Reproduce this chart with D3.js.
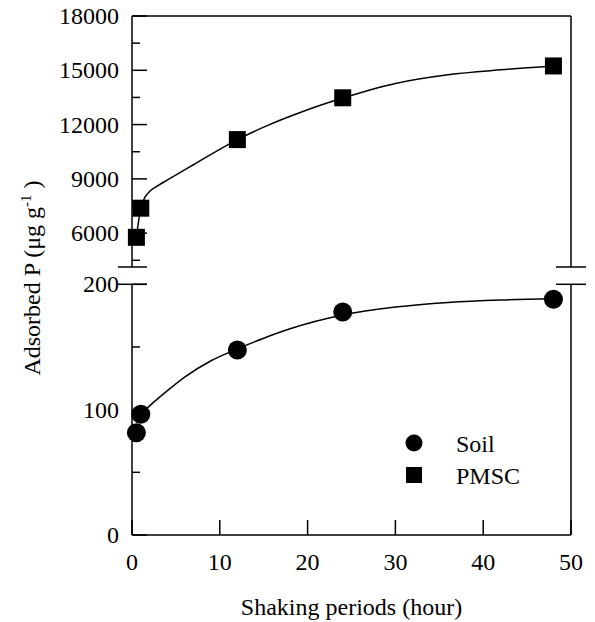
<!DOCTYPE html>
<html>
<head>
<meta charset="utf-8">
<script src="https://cdn.jsdelivr.net/npm/d3@7/dist/d3.min.js"></script>
<style>
  body { margin: 0; background: #fff; }
  .axis { stroke: #000; stroke-width: 1.5; fill: none; }
  .fit { stroke: #000; stroke-width: 1.5; fill: none; }
</style>
</head>
<body>
<svg id="chart" width="595" height="622" font-family="Liberation Serif, DejaVu Serif, serif"></svg>
<script>
'use strict';

// shaking time (hour) and adsorbed P
const hours = [0.5, 1, 12, 24, 48];
const soilP = [81.6, 96.3, 147.6, 177.9, 188];
const pmscP = [5770, 7380, 11170, 13480, 15240];

// fitted curves
const soilFitHours = [1, 2, 4, 6, 9, 12, 15, 18, 24, 30, 36, 42, 48];
const soilFit = [96.3, 103, 115, 126, 139, 148.5, 157, 164.5, 175.5, 181.8, 185.5, 187.5, 188.5];
const pmscFitHours = [0.5, 1, 1.5, 2, 3, 4, 7, 12, 15, 19, 24, 30, 36, 42, 48];
const pmscFit = [5770, 7380, 8000, 8300, 8640, 8930, 9780, 11170, 11860, 12640, 13465, 14275, 14755, 15025, 15235];

// tick values for the broken y axis
const xTicks = [0, 10, 20, 30, 40, 50];
const lowMajor = [0, 100, 200];
const lowMinor = [50, 150];
const highMajor = [6000, 9000, 12000, 15000, 18000];
const highMinor = [4500, 7500, 10500, 13500, 16500];

const svg = d3.select('#chart');

// plot box, with the axis break between the two panels
const box = { l: 132, r: 571, t: 16, b: 535 };
const breakTop = 267, breakBottom = 284.3;

const x = d3.scaleLinear().domain([0, 50]).range([box.l, box.r]);
const yLow = d3.scaleLinear().domain([0, 200]).range([box.b, breakBottom]);
const yHigh = d3.scaleLinear().domain([4130, 18000]).range([breakTop, box.t]);

// frame: axes are split at the break
const seg = (x1, y1, x2, y2) => svg.append('line').attr('class', 'axis')
  .attr('x1', x1).attr('y1', y1).attr('x2', x2).attr('y2', y2);
seg(box.l, box.t, box.r, box.t);
seg(box.l, box.b, box.r, box.b);
seg(box.l, box.t, box.l, breakTop);
seg(box.l, breakBottom, box.l, box.b);
seg(box.r, box.t, box.r, breakTop);
seg(box.r, breakBottom, box.r, box.b);
// break marks
[breakTop, breakBottom].forEach((yy) => {
  seg(box.l - 14, yy, box.l + 15, yy);
  seg(box.r - 15, yy, box.r + 15, yy);
});

// ticks: inward on the left and bottom
const yTick = (scale, vals, len, label) => {
  vals.forEach((v) => {
    seg(box.l, scale(v), box.l + len, scale(v));
    if (label) {
      svg.append('text').attr('x', box.l - 13).attr('y', scale(v))
        .attr('text-anchor', 'end').attr('dominant-baseline', 'central')
        .attr('font-size', 24).text(v);
    }
  });
};
yTick(yLow, lowMajor, 15, true);
yTick(yLow, lowMinor, 8, false);
yTick(yHigh, highMajor, 15, true);
yTick(yHigh, highMinor, 8, false);

xTicks.forEach((v) => {
  seg(x(v), box.b, x(v), box.b - 15);
  svg.append('text').attr('x', x(v)).attr('y', 570)
    .attr('text-anchor', 'middle').attr('font-size', 24).text(v);
});

// axis titles
svg.append('text').attr('x', (box.l + box.r) / 2).attr('y', 615)
  .attr('text-anchor', 'middle').attr('font-size', 24)
  .text('Shaking periods (hour)');

const yTitle = svg.append('text')
  .attr('transform', 'translate(40,278) rotate(-90)')
  .attr('text-anchor', 'middle').attr('font-size', 24);
yTitle.append('tspan').text('Adsorbed P (μg g');
yTitle.append('tspan').attr('font-size', 15).attr('dy', -9).text('-1');
yTitle.append('tspan').attr('dy', 9).text(' )');

// fitted curves
const soilLine = soilFitHours.map((h, i) => [h, soilFit[i]]);
const pmscLine = pmscFitHours.map((h, i) => [h, pmscFit[i]]);

svg.append('path').attr('class', 'fit')
  .attr('d', d3.line().curve(d3.curveMonotoneX)
    .x((d) => x(d[0])).y((d) => yLow(d[1]))(soilLine));
svg.append('path').attr('class', 'fit')
  .attr('d', d3.line().curve(d3.curveMonotoneX)
    .x((d) => x(d[0])).y((d) => yHigh(d[1]))(pmscLine));

// markers
const soilData = hours.map((h, i) => [h, soilP[i]]);
const pmscData = hours.map((h, i) => [h, pmscP[i]]);
svg.selectAll('circle.soil').data(soilData).join('circle')
  .attr('class', 'soil')
  .attr('cx', (d) => x(d[0])).attr('cy', (d) => yLow(d[1]))
  .attr('r', 9.5).attr('fill', '#000');
svg.selectAll('rect.pmsc').data(pmscData).join('rect')
  .attr('class', 'pmsc')
  .attr('x', (d) => x(d[0]) - 8.5).attr('y', (d) => yHigh(d[1]) - 8.5)
  .attr('width', 17).attr('height', 17).attr('fill', '#000');

// legend
svg.append('circle').attr('cx', 414).attr('cy', 443).attr('r', 8.5).attr('fill', '#000');
svg.append('rect').attr('x', 406).attr('y', 467).attr('width', 16).attr('height', 16).attr('fill', '#000');
svg.append('text').attr('x', 456).attr('y', 452).attr('font-size', 24).text('Soil');
svg.append('text').attr('x', 456).attr('y', 484).attr('font-size', 24).text('PMSC');
</script>
</body>
</html>
